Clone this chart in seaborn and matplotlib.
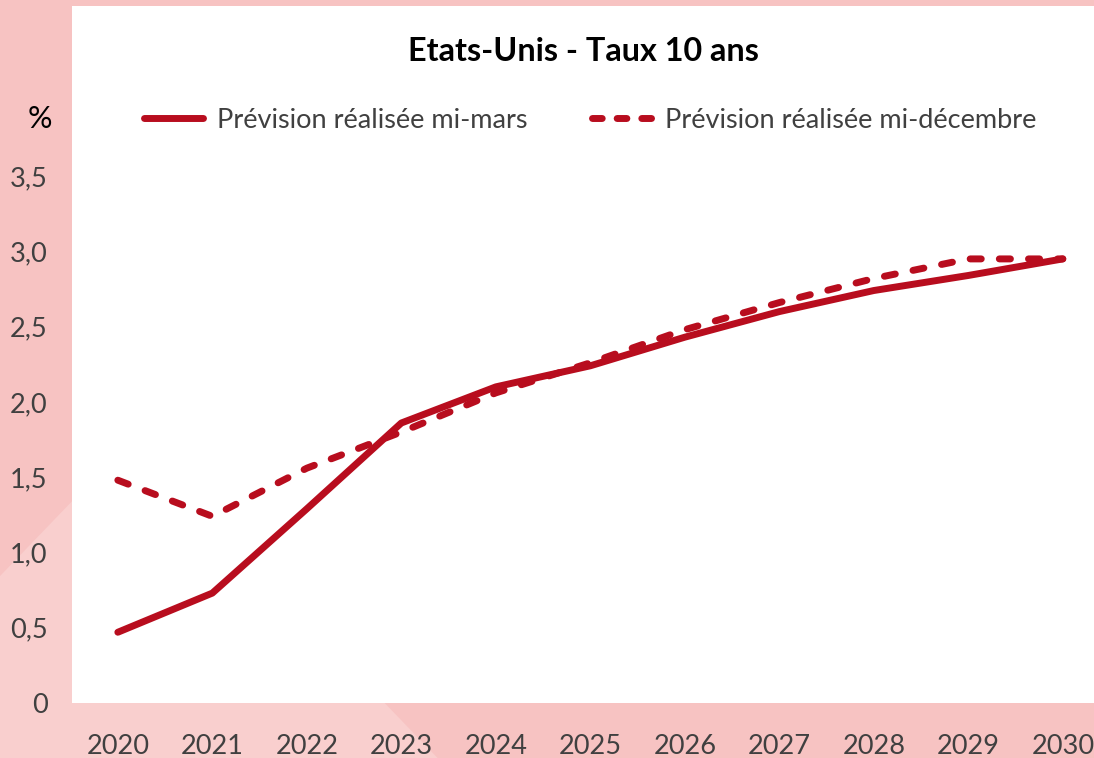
import pandas as pd
import matplotlib.pyplot as plt
import seaborn as sns
from matplotlib.lines import Line2D
from matplotlib.patches import Polygon

annees = [2020, 2021, 2022, 2023, 2024, 2025, 2026, 2027, 2028, 2029, 2030]
prevision_mars = [0.47, 0.73, 1.29, 1.86, 2.10, 2.24, 2.43, 2.60, 2.74, 2.84, 2.95]
prevision_decembre = [1.48, 1.24, 1.56, 1.80, 2.06, 2.26, 2.48, 2.66, 2.82, 2.95, 2.95]
series = ["Prévision réalisée mi-mars", "Prévision réalisée mi-décembre"]
yticks = [0, 0.5, 1.0, 1.5, 2.0, 2.5, 3.0, 3.5]
ytick_labels = ["0", "0,5", "1,0", "1,5", "2,0", "2,5", "3,0", "3,5"]

df = pd.DataFrame({
    "annee": annees * 2,
    "taux": prevision_mars + prevision_decembre,
    "serie": [series[0]] * len(annees) + [series[1]] * len(annees),
})

rouge = "#b80d1e"
gris = "#404040"
rose = "#f7c3c2"

sns.set_style("white")
plt.rcParams["font.family"] = ["Lato", "DejaVu Sans"]

fig = plt.figure(figsize=(10.94, 7.58), dpi=100)
fig.patch.set_facecolor(rose)
# lighter facet in the lower-left corner of the background
fig.patches.append(Polygon([(0, 0), (0, 0.24), (0.12, 0.42), (0.40, 0)],
                           closed=True, transform=fig.transFigure,
                           facecolor="#f9cfce", edgecolor="none", zorder=-5))

ax = fig.add_axes([72 / 1094, 55 / 758, 1022 / 1094, 697 / 758])
ax.set_facecolor("white")
ax.set_zorder(1)

sns.lineplot(data=df, x="annee", y="taux", hue="serie", style="serie",
             palette={series[0]: rouge, series[1]: rouge},
             dashes={series[0]: "", series[1]: (1.6, 2.6)},
             linewidth=5, ax=ax, legend=False)
for line in ax.get_lines():
    line.set_solid_capstyle("round")
    line.set_dash_capstyle("round")
    line.set_solid_joinstyle("round")

ax.set_xlim(2019.515, 2030.33)
ax.set_ylim(0, 4.63)
ax.set_xticks(annees)
ax.set_xticklabels([str(a) for a in annees])
ax.set_yticks(yticks)
ax.set_yticklabels(ytick_labels)
ax.tick_params(axis="both", length=0, labelsize=19.5, labelcolor=gris)
ax.tick_params(axis="x", pad=22)
ax.tick_params(axis="y", pad=17.5)
ax.set_xlabel("")
ax.set_ylabel("")
for s in ax.spines.values():
    s.set_visible(False)
ax.grid(False)

ax.text(0.5, 0.935, "Etats-Unis - Taux 10 ans", transform=ax.transAxes,
        ha="center", va="center", fontsize=23.3, fontweight="bold", color="black")
ax.text(-20 / 1022, 3.88, "%", transform=ax.get_yaxis_transform(),
        ha="right", va="center", fontsize=22, color="black")

# legend handle: three full dashes, like the reference
handles = [
    Line2D([], [], color=rouge, lw=5, solid_capstyle="round"),
    Line2D([], [], color=rouge, lw=5, dashes=(1.4, 2.15), dash_capstyle="round"),
]
leg = ax.legend(handles, series, loc="center", bbox_to_anchor=(0.507, 0.836),
                ncol=2, frameon=False, fontsize=19.5, handlelength=2.2,
                handletextpad=0.5, columnspacing=2.4)
for t in leg.get_texts():
    t.set_color(gris)

fig.savefig("out.png", dpi=100, facecolor=fig.get_facecolor())
